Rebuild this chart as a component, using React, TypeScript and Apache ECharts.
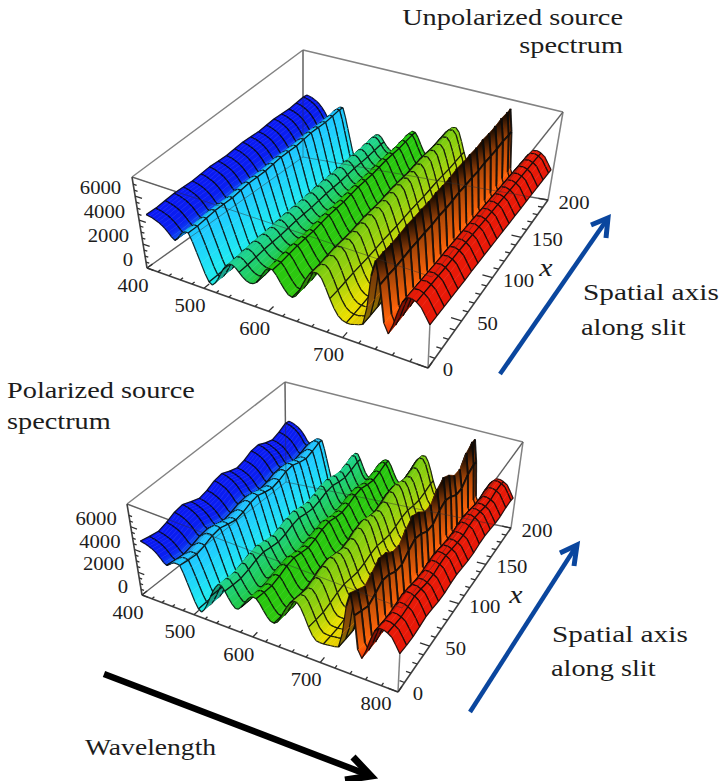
import React, { useEffect, useRef } from "react";
import * as echarts from "echarts";

// ---------- data ----------
const wavelengths = [415,420,425,430,435,440,445,450,455,460,465,470,475,480,485,490,495,500,505,510,515,520,525,530,535,540,545,550,555,560,565,570,575,580,585,590,595,600,605,610,615,620,625,630,635,640,645,650,655,660,665,670,675,680,685,690,695,700,705,710,715,720,725,730,735,740,745,750,755,760,765,770,775,780,785,790,795,800];
const unpolarizedProfile = [4700,4650,4600,4500,4400,4250,4050,3800,3500,3300,3500,3900,4200,4350,4350,3700,2900,2100,1300,700,550,800,1200,1700,2200,2600,2850,2900,2750,2450,2150,1950,1850,1900,2100,2500,3000,3450,3700,3650,3300,2800,2350,2000,1900,2100,2600,3300,3900,4400,4650,4700,4400,3700,2900,2200,1700,1450,1350,1350,1450,1550,1700,3200,6000,7400,5500,2400,1650,2500,3700,4700,5200,5250,5100,4800,4200,3600];
const polarizedProfile = [5000,4950,4900,4800,4700,4550,4350,4100,3800,3650,3800,4000,4150,4160,4100,3500,2750,2000,1250,700,520,800,1250,1800,2350,2900,3350,3700,3700,3300,2800,2350,2050,2100,2400,2800,3250,3600,3750,3700,3350,2850,2400,2100,2050,2250,2750,3400,4000,4500,4800,4800,4400,3700,2900,2250,1900,1850,1850,1900,1950,2000,2100,3500,6200,7600,5600,2500,1850,2700,3900,4900,5300,5300,5150,4900,4300,3650];
const spatialPositions = [0,10,20,30,40,50,60,70,80,90,100,110,120,130,140,150,160,170,180,190,195];
const unpolarizedRipple = [1,0.99,1,1.01,1,0.99,1,1.01,1,0.99,1,1.01,1,0.99,1,1.01,1,0.99,1,1.01,1];
const unpolarizedPeakRipple = [1,1,0.99,0.99,1,0.99,0.99,0.98,0.99,0.98,0.98,0.99,0.98,0.98,0.97,0.98,0.97,0.97,0.98,0.97,0.97];
const unpolarizedRedRipple = [1,0.99,0.98,0.97,0.96,0.95,0.95,0.94,0.93,0.92,0.91,0.9,0.89,0.88,0.87,0.86,0.85,0.84,0.83,0.82,0.81];
const polarizedRipple = [1,0.96,0.93,0.97,1.03,1.05,0.99,0.94,0.97,1.03,1.05,0.99,0.95,0.98,1.04,1.05,0.99,0.95,0.99,1.05,1.04];
const polarizedPeakRipple = [1,0.93,0.86,0.92,0.99,0.95,0.86,0.84,0.93,1,0.95,0.86,0.85,0.95,1,0.94,0.85,0.84,0.95,1,0.99];
const polarizedRedRipple = [1,0.97,0.95,0.97,1,0.97,0.93,0.92,0.95,0.96,0.93,0.9,0.89,0.92,0.93,0.9,0.86,0.85,0.88,0.88,0.85];
const meshWavelengths = [460,485,510,535,560,585,610,635,660,685,705,725,745,770,785];
const wavelengthTicks = [400,500,600,700,800];
const spatialTicks = [0,50,100,150,200];
const intensityTicks = [0,2000,4000,6000];
const colorStops: [number,string][] = [[415,"#0a18f4"],[452,"#0a20f0"],[462,"#1470f0"],[472,"#1cbcff"],[490,"#20ccff"],[508,"#20ecf0"],[525,"#20dcc0"],[555,"#20d488"],[578,"#20c840"],[600,"#22c810"],[640,"#34c810"],[665,"#70cc10"],[680,"#94d010"],[690,"#c8d808"],[698,"#e8e000"],[726,"#f0d000"],[732,"#ff7a10"],[752,"#ff6208"],[757,"#e82008"],[800,"#e81808"]];

// ---------- layout ----------
type Pt = [number,number];
type Box = { flb:Pt; frb:Pt; blb:Pt; brb:Pt; flt:Pt; frt:Pt; blt:Pt; brt:Pt; zMax:number };
const upperBox: Box = { flb:[147,268], frb:[428,368], blb:[303,157], brb:[548,200], flt:[132,177], frt:[432,277], blt:[303,50], brt:[563,112], zMax:7600 };
const lowerBox: Box = { flb:[142,595], frb:[398,692], blb:[286,482], brb:[511,528], flt:[127,504], frt:[402,608], blt:[285,382], brt:[523,442], zMax:8000 };

const warp = (t:number, r:number) => t/(t+(1-t)*r);
function project(b:Box, lambda:number, x:number, z:number):Pt {
  const u = warp((lambda-400)/400,1.31), v = warp(x/200,0.857), h = z/b.zMax;
  const bi = (a:Pt,c:Pt,d:Pt,e:Pt,k:0|1) => (a[k]*(1-u)+c[k]*u)*(1-v)+(d[k]*(1-u)+e[k]*u)*v;
  const f = (k:0|1) => bi(b.flb,b.frb,b.blb,b.brb,k)*(1-h)+bi(b.flt,b.frt,b.blt,b.brt,k)*h;
  return [f(0),f(1)];
}
const hex = (s:string) => [1,3,5].map(i=>parseInt(s.slice(i,i+2),16));
function surfaceColor(l:number,z:number,slope:number){
  let c = hex(colorStops[colorStops.length-1][1]);
  for(let i=0;i<colorStops.length-1;i++){
    const [a,ca]=colorStops[i],[e,ce]=colorStops[i+1];
    if(l>=a&&l<=e){const t=(l-a)/(e-a);const p=hex(ca),q=hex(ce);c=p.map((v,k)=>v+(q[k]-v)*t);break;}
  }
  let m = 1;
  if(l>=732&&l<=754){ const t=Math.max(0,Math.min(1,(z-3000)/4000)); m = 1-Math.pow(t,1.8)*0.9; }
  else if(slope>0) m = Math.max(0.55,1-slope*0.0025);
  return `rgb(${c.map(v=>Math.round(v*m)).join(",")})`;
}

function buildQuads(profile:number[],ripple:number[],peakRipple:number[],redRipple:number[]){
  const value=(i:number,j:number)=>{
    const l=wavelengths[i];
    const r=(l>=730&&l<=750)?peakRipple[j]:l>=760?redRipple[j]:ripple[j];
    return profile[i]*r;
  };
  const rows:number[][]=[];
  for(let j=spatialPositions.length-2;j>=0;j--){
    for(let i=0;i<wavelengths.length-1;i++){
      rows.push([wavelengths[i],wavelengths[i+1],spatialPositions[j],spatialPositions[j+1],value(i,j),value(i+1,j),value(i+1,j+1),value(i,j+1)]);
    }
  }
  return rows;
}

function surfaceSeries(b:Box,rows:number[][]){
  const lMin=wavelengths[0],lMax=wavelengths[wavelengths.length-1];
  return {
    type:"custom",coordinateSystem:"cartesian2d",data:rows,silent:true,clip:false,progressive:0,z:3,
    renderItem:(_:any,api:any)=>{
      const l1=api.value(0),l2=api.value(1),x1=api.value(2),x2=api.value(3);
      const z1=api.value(4),z2=api.value(5),z3=api.value(6),z4=api.value(7);
      const p=(l:number,x:number,z:number)=>api.coord(project(b,l,x,z));
      const a=p(l1,x1,z1),c=p(l2,x1,z2),d=p(l2,x2,z3),e=p(l1,x2,z4);
      const slope=(z2-z1)/(l2-l1);
      const colA=surfaceColor(l1,(z1+z4)/2,slope),colB=surfaceColor(l2,(z2+z3)/2,slope);
      const mid=surfaceColor((l1+l2)/2,(z1+z2+z3+z4)/4,slope);
      const fill:any=new echarts.graphic.LinearGradient((a[0]+e[0])/2,(a[1]+e[1])/2,(c[0]+d[0])/2,(c[1]+d[1])/2,[{offset:0,color:colA},{offset:1,color:colB}],true);
      const kids:any[]=[{type:"polygon",shape:{points:[a,c,d,e]},style:{fill,stroke:mid,lineWidth:0.5}}];
      const onFace=l1>=735&&l2<=752;
      const ink={stroke:"#0a0a0a",lineWidth:onFace?1.9:1.2,fill:"none",opacity:0.88};
      kids.push({type:"line",shape:{x1:a[0],y1:a[1],x2:c[0],y2:c[1]},style:ink});
      kids.push({type:"line",shape:{x1:e[0],y1:e[1],x2:d[0],y2:d[1]},style:ink});
      if(meshWavelengths.includes(l1)||l1===lMin) kids.push({type:"line",shape:{x1:a[0],y1:a[1],x2:e[0],y2:e[1]},style:ink});
      if(meshWavelengths.includes(l2)||l2===lMax) kids.push({type:"line",shape:{x1:c[0],y1:c[1],x2:d[0],y2:d[1]},style:ink});
      return {type:"group",children:kids};
    },
  };
}

function edgeSeries(b:Box,edges:number[][],stroke:string,width:number,z:number,opacity=1){
  return {
    type:"custom",coordinateSystem:"cartesian2d",data:edges,silent:true,clip:false,progressive:0,z,
    renderItem:(_:any,api:any)=>{
      const s=api.coord(project(b,api.value(0),api.value(1),api.value(2)));
      const e=api.coord(project(b,api.value(3),api.value(4),api.value(5)));
      return {type:"line",shape:{x1:s[0],y1:s[1],x2:e[0],y2:e[1]},style:{stroke,lineWidth:width,opacity}};
    },
  };
}
function boxSeries(b:Box){
  const Z=b.zMax;
  const back=[[400,200,0,400,200,Z],[400,200,Z,800,200,Z],[800,200,Z,800,200,0],[400,0,Z,400,200,Z],[800,0,Z,800,200,Z],[400,0,0,400,200,0],[400,200,0,800,200,0],[400,0,Z,800,0,Z],[800,0,0,800,0,Z]];
  const front=[[400,0,Z,800,0,Z],[800,0,Z,800,200,Z],[400,200,0,800,200,0],[400,0,0,400,200,0],[400,200,0,400,200,Z]];
  const axes=[[400,0,0,800,0,0],[800,0,0,800,200,0],[400,0,0,400,0,Z]];
  const ticks:number[][]=[];
  for(let l=400;l<=800;l+=20){const k=l%100===0?0.03:0.015;ticks.push([l,0,0,l,200*k,0]);}
  for(let x=0;x<=200;x+=10){const k=x%50===0?12:6;ticks.push([800,x,0,800-k,x,0]);}
  for(let zv=0;zv<=7000;zv+=500){const k=zv%2000===0?12:6;ticks.push([400,0,zv,400+k,0,zv]);}
  return [
    edgeSeries(b,back,"#828282",1.5,1),
    edgeSeries(b,front,"#303030",1,5,0.45),
    edgeSeries(b,axes,"#404040",1.6,6),
    edgeSeries(b,ticks,"#303030",1.3,6),
  ];
}

// ---------- text ----------
const serif='Liberation Serif';
function label(text:string,x:number,y:number,size:number,align="left",scaleX=1.18,style="normal"){
  return {type:"text",x,y,scaleX,z:20,silent:true,style:{text,fontSize:size,fontFamily:serif,fontStyle:style,fill:"#1c1c1c",align,verticalAlign:"middle"}};
}
function tickLabels(b:Box){
  const out:any[]=[];
  wavelengthTicks.forEach(t=>{
    if(b===upperBox&&t===800) return;
    const p=project(b,t,0,0);
    const shift=t===800?[-22,12]:[-14,17.5];
    out.push(label(String(t),p[0]+shift[0],p[1]+shift[1],18,"center",1.15));
  });
  spatialTicks.forEach(t=>{const p=project(b,800,t,0);out.push(label(String(t),p[0]+(t===0?20:26),p[1]+(t===0?2:3),18,"center",1.15));});
  intensityTicks.forEach(t=>{const p=project(b,400,0,t);out.push(label(String(t),p[0]-14,p[1]-8,18,"right",1.15));});
  return out;
}
function arrow(pts:[Pt,Pt],barbs:[Pt,Pt],stroke:string,width:number){
  return [
    {type:"line",z:15,silent:true,shape:{x1:pts[0][0],y1:pts[0][1],x2:pts[1][0],y2:pts[1][1]},style:{stroke,lineWidth:width}},
    {type:"polyline",z:15,silent:true,shape:{points:[barbs[0],pts[1],barbs[1]]},style:{stroke,lineWidth:width+0.5,fill:"none",lineJoin:"miter"}},
  ];
}

export default function App(){
  const ref=useRef<HTMLDivElement>(null);
  useEffect(()=>{
    document.body.style.margin="0";
    const chart=echarts.init(ref.current!,undefined,{renderer:"svg"});
    chart.setOption({
      animation:false,
      backgroundColor:"#ffffff",
      grid:{left:0,right:0,top:0,bottom:0},
      xAxis:{type:"value",min:0,max:720,show:false},
      yAxis:{type:"value",min:0,max:781,inverse:true,show:false},
      series:[
        ...boxSeries(upperBox),
        surfaceSeries(upperBox,buildQuads(unpolarizedProfile,unpolarizedRipple,unpolarizedPeakRipple,unpolarizedRedRipple)),
        ...boxSeries(lowerBox),
        surfaceSeries(lowerBox,buildQuads(polarizedProfile,polarizedRipple,polarizedPeakRipple,polarizedRedRipple)),
      ],
      graphic:[
        ...tickLabels(upperBox),
        ...tickLabels(lowerBox),
        label("Unpolarized source",623,17,24,"right"),
        label("spectrum",623,45,24,"right"),
        label("Polarized source",7,390,24),
        label("spectrum",7,421,24),
        label("Spatial axis",583,292,24,"left",1.22),
        label("along slit",581,327,24),
        label("Spatial axis",552,634,24,"left",1.22),
        label("along slit",551,668,24),
        label("Wavelength",85,747,24,"left",1.15),
        label("x",546,267,26,"center",1.15,"italic"),
        label("x",516,594,26,"center",1.15,"italic"),
        ...arrow([[500,374],[608,218]],[[591,225],[606,238]],"#0a469e",4.5),
        ...arrow([[470,712],[577,545]],[[560,553],[574,566]],"#0a469e",4.5),
        ...arrow([[104,674],[371,776]],[[353,757],[345,780]],"#000000",6.5),
      ],
    });
    return ()=>chart.dispose();
  },[]);
  return <div ref={ref} style={{width:720,height:781}}/>;
}
